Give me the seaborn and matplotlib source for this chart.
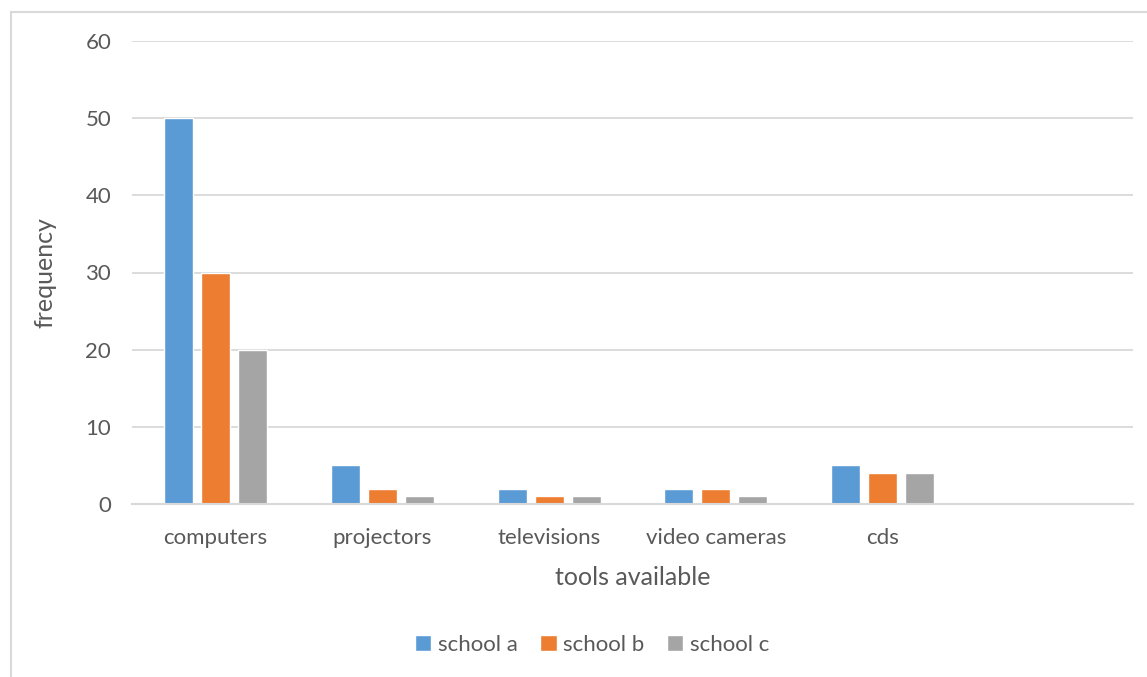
import numpy as np
import pandas as pd
import matplotlib
matplotlib.use("Agg")
import matplotlib.pyplot as plt
import seaborn as sns

tools = ["computers", "projectors", "televisions", "video cameras", "cds"]
school_a = [50, 5, 2, 2, 5]
school_b = [30, 2, 1, 2, 4]
school_c = [20, 1, 1, 1, 4]
schools = ["school a", "school b", "school c"]
colors = ["#5B9BD5", "#ED7D31", "#A5A5A5"]

# long form table for seaborn
rows = []
for name, vals in zip(schools, [school_a, school_b, school_c]):
    for t, v in zip(tools, vals):
        rows.append({"tool": t, "school": name, "frequency": v})
df = pd.DataFrame(rows)

sns.set_style("white")
plt.rcParams['font.family'] = ['Lato', 'DejaVu Sans']
txt = "#595959"
grid = "#D9D9D9"

fig = plt.figure(figsize=(11.47, 6.77), dpi=100)
ax = fig.add_axes([132/1147, 1-504/677, 1001/1147, 463/677])

# excel left an empty 6th category slot on the right
order = tools + [""]
sns.barplot(data=df, x="tool", y="frequency", hue="school", order=order,
            hue_order=schools, palette=colors, width=0.665, gap=0.215,
            saturation=1, errorbar=None, legend=True, ax=ax)

ax.set_ylim(0, 60)
ax.set_yticks(range(0, 61, 10))
ax.set_xlim(-0.5, len(order) - 0.5)
ax.yaxis.grid(True, color=grid, linewidth=1.3)
ax.set_axisbelow(True)
for s in ["top", "right", "left"]:
    ax.spines[s].set_visible(False)
ax.spines["bottom"].set_color(grid)
ax.spines["bottom"].set_linewidth(1.5)
ax.tick_params(axis="both", length=0, labelsize=16, labelcolor=txt)
ax.tick_params(axis="x", pad=17)
ax.tick_params(axis="y", pad=15)
ax.set_xlabel("tools available", fontsize=18, color=txt, labelpad=13)
ax.set_ylabel("frequency", fontsize=18, color=txt, labelpad=21)

handles, labels = ax.get_legend_handles_labels()
ax.legend_.remove()
fig.legend(handles, labels, loc="center", bbox_to_anchor=(592/1147, 1-645/677),
           ncol=3, frameon=False, fontsize=16, labelcolor=txt,
           handlelength=0.75, handleheight=0.75, handletextpad=0.3, columnspacing=1.0)

# chart area border
border = plt.Rectangle((11/1147, -0.05), 1.2, 1-12/677+0.05, transform=fig.transFigure,
                       fill=False, edgecolor=grid, linewidth=1.5)
fig.patches.append(border)

fig.savefig("out.png", dpi=100)
